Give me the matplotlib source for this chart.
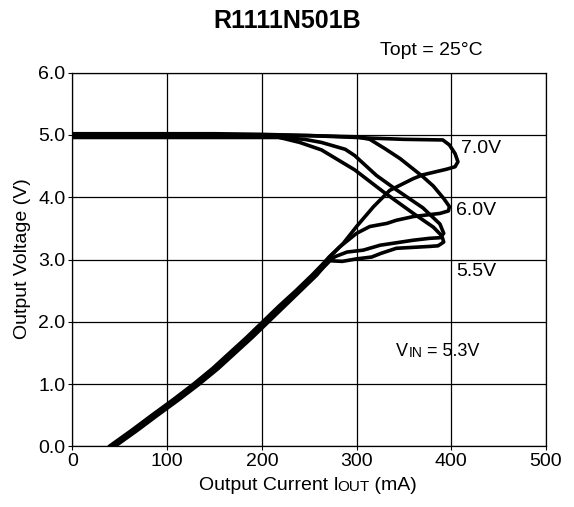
import matplotlib
matplotlib.use("Agg")
import matplotlib.pyplot as plt

plt.rcParams['font.family'] = ['Liberation Sans', 'DejaVu Sans']

# curves: output current (mA) vs output voltage (V)
i_70 = [0, 50, 100, 150, 200, 250, 300, 314, 350, 391, 398, 404, 407, 404, 395,
        370, 360, 335, 318, 300, 286,
        269, 253, 236, 218, 201, 184, 166, 148, 128, 106.5, 84, 62, 39]
v_70 = [5.02, 5.02, 5.02, 5.02, 5.01, 4.99, 4.96, 4.95, 4.93, 4.92, 4.84, 4.70, 4.57, 4.49, 4.45,
        4.36, 4.30, 4.11, 3.85, 3.53, 3.26,
        3.00, 2.75, 2.50, 2.25, 2.00, 1.75, 1.50, 1.25, 1.00, 0.75, 0.50, 0.25, 0.00]

i_60 = [0, 50, 100, 150, 200, 250, 300, 314, 330, 346, 370, 381, 392, 398, 397, 388,
        360, 342, 332, 314, 300, 282,
        271, 255, 238, 220.5, 203, 186, 168, 150, 130, 108.5, 86, 64, 41]
v_60 = [5.00, 5.00, 5.00, 5.00, 5.00, 4.99, 4.97, 4.93, 4.78, 4.62, 4.33, 4.18, 3.98, 3.85, 3.78, 3.74,
        3.69, 3.63, 3.58, 3.53, 3.42, 3.20,
        3.04, 2.75, 2.50, 2.25, 2.00, 1.75, 1.50, 1.25, 1.00, 0.75, 0.50, 0.25, 0.00]

i_55 = [0, 50, 100, 150, 200, 216, 240, 263, 298, 328, 360, 381, 390, 392, 386, 377,
        342, 326, 316, 300, 285,
        272, 257, 240, 222.5, 205, 188, 170, 152, 132, 110.5, 88, 66, 43]
v_55 = [4.98, 4.98, 4.98, 4.98, 4.98, 4.97, 4.88, 4.76, 4.44, 4.09, 3.74, 3.52, 3.38, 3.28, 3.22, 3.21,
        3.18, 3.10, 3.04, 3.01, 2.97,
        2.98, 2.75, 2.50, 2.25, 2.00, 1.75, 1.50, 1.25, 1.00, 0.75, 0.50, 0.25, 0.00]

i_53 = [0, 50, 100, 150, 200, 218, 245, 263, 288, 298, 321, 342, 370, 388, 392, 388,
        377, 360, 325, 307, 290, 278,
        271, 258, 241, 224, 207, 190, 172, 154, 134, 112.5, 90, 68, 45]
v_53 = [4.96, 4.96, 4.96, 4.96, 4.96, 4.96, 4.93, 4.88, 4.77, 4.67, 4.35, 4.12, 3.83, 3.57, 3.42, 3.35,
        3.34, 3.31, 3.23, 3.15, 3.12, 3.05,
        2.99, 2.75, 2.50, 2.25, 2.00, 1.75, 1.50, 1.25, 1.00, 0.75, 0.50, 0.25, 0.00]

curves = [(i_70, v_70), (i_60, v_60), (i_55, v_55), (i_53, v_53)]
curve_labels = ["7.0V", "6.0V", "5.5V"]
label_pos = [(410, 4.79), (405, 3.79), (405, 2.80)]

x_ticks = [0, 100, 200, 300, 400, 500]
y_ticks = [0.0, 1.0, 2.0, 3.0, 4.0, 5.0, 6.0]

fig = plt.figure(figsize=(5.74, 5.07), dpi=100)
ax = fig.add_axes([0.126, 0.1197, 0.8253, 0.7369])

for cur, volt in curves:
    ax.plot(cur, volt, color='black', lw=2.6, solid_joinstyle='round', solid_capstyle='round')

ax.set_xlim(0, 500)
ax.set_ylim(0, 6)
ax.set_xticks(x_ticks)
ax.set_yticks(y_ticks)
ax.set_xticklabels([str(t) for t in x_ticks], fontsize=14)
ax.set_yticklabels([f"{t:.1f}" for t in y_ticks], fontsize=14)
ax.tick_params(direction='out', length=3, width=0.8, color='black', pad=2)
ax.grid(True, color='black', lw=0.9)
for s in ax.spines.values():
    s.set_linewidth(0.9)

for txt, (x, y) in zip(curve_labels, label_pos):
    ax.text(x, y, txt, fontsize=14, va='center', ha='left')

# V_IN label with small-caps style suffix
t1 = ax.text(342, 1.52, "V", fontsize=13, va='center', ha='left')
t2 = ax.annotate("IN", xy=(1, 0), xycoords=t1, fontsize=10, va='bottom', ha='left')
ax.annotate(" = 5.3V", xy=(1, 0), xycoords=t2, fontsize=13, va='bottom', ha='left')

fig.text(23 / 574, 0.489, "Output Voltage (V)", fontsize=14, rotation=90, ha='center', va='center')

# x label: "Output Current IOUT (mA)" with smaller OUT
x1 = fig.text(199 / 574, (507 - 490) / 507, "Output Current I", fontsize=14, va='baseline', ha='left')
x2 = ax.annotate("OUT", xy=(1, 0), xycoords=x1, xytext=(-1.5, 0), textcoords='offset points',
                 fontsize=11, va='bottom', ha='left')
ax.annotate(" (mA)", xy=(1, 0), xycoords=x2, fontsize=14, va='bottom', ha='left')

fig.text(286.7 / 574, (507 - 28.3) / 507, "R1111N501B", fontsize=18, fontweight='bold',
         ha='center', va='baseline')
fig.text(380 / 574, (507 - 55) / 507, "Topt = 25\u00b0C", fontsize=14, ha='left', va='baseline')

fig.savefig("out.png", dpi=100)
